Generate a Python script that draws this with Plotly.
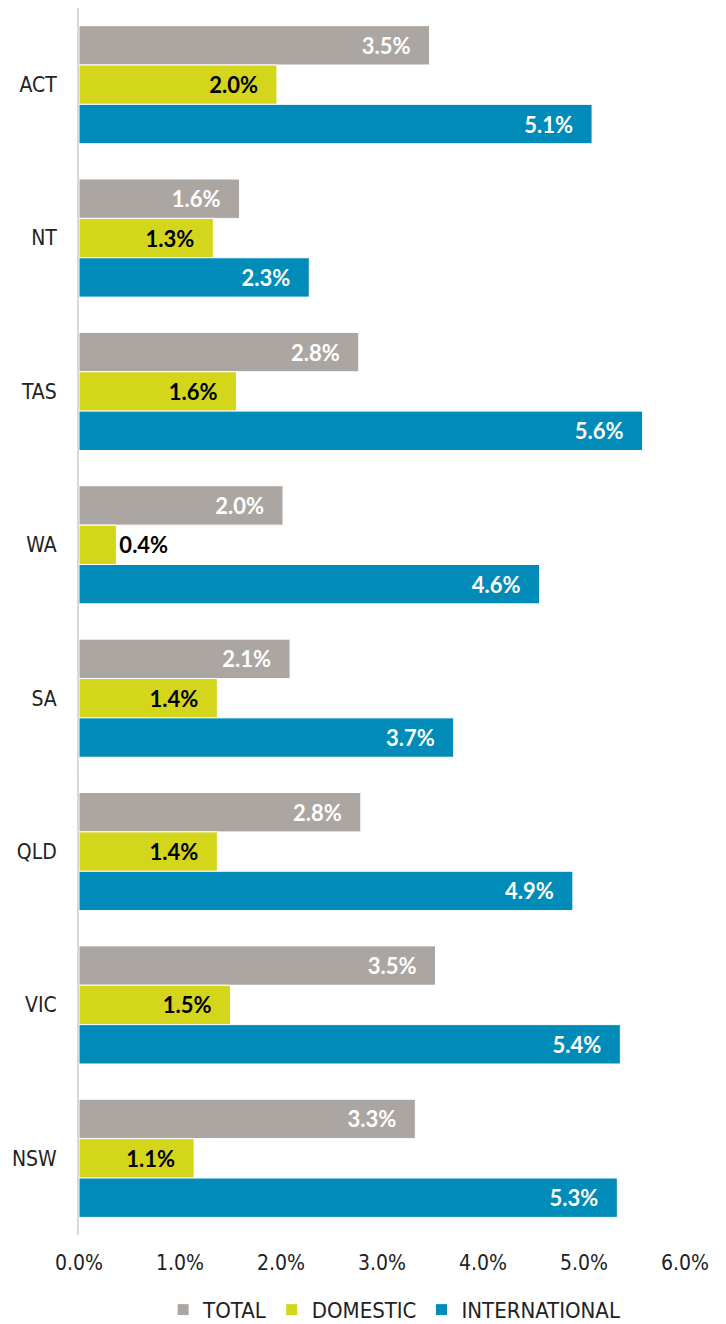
import plotly.graph_objects as go

states = ["ACT", "NT", "TAS", "WA", "SA", "QLD", "VIC", "NSW"]
total = [3.47, 1.59, 2.77, 2.02, 2.09, 2.79, 3.53, 3.33]
domestic = [1.96, 1.33, 1.56, 0.37, 1.37, 1.37, 1.50, 1.14]
international = [5.08, 2.28, 5.58, 4.56, 3.71, 4.89, 5.36, 5.33]
tick_vals = [0, 1, 2, 3, 4, 5, 6]
tick_text = ["0.0%", "1.0%", "2.0%", "3.0%", "4.0%", "5.0%", "6.0%"]

axis_font = "DejaVu Sans Condensed, DejaVu Sans, sans-serif"
label_font = "Lato, Open Sans, sans-serif"

series = [
    ("TOTAL", total, "#aba6a2", "white"),
    ("DOMESTIC", domestic, "#d4d61c", "black"),
    ("INTERNATIONAL", international, "#008bb8", "white"),
]

fig = go.Figure()
for name, vals, col, txtcol in series:
    # short bars can't hold their label, so put it just past the end
    pos = ["outside" if v < 0.6 else "inside" for v in vals]
    fig.add_trace(go.Bar(
        y=states, x=vals, name=name, orientation="h",
        marker=dict(color=col, line=dict(color="white", width=1)),
        texttemplate="%{x:.1f}%\u00a0\u00a0\u00a0", textposition=pos, textangle=0,
        insidetextanchor="end", constraintext="none",
        textfont=dict(family=label_font, size=22, color=txtcol, weight="bold"),
        outsidetextfont=dict(family=label_font, size=22, color="black", weight="bold"),
        cliponaxis=False,
    ))

# page body has an 8px margin, so the figure is 8px smaller than the window
fig.update_layout(
    barmode="group", bargap=0.23, bargroupgap=0,
    width=718, height=1316,
    margin=dict(l=71, r=41, t=0, b=89, autoexpand=False),
    plot_bgcolor="white", paper_bgcolor="white",
    font=dict(family=axis_font, size=21, color="#222222"),
    legend=dict(orientation="h", x=0.52, xanchor="center", y=-0.061, yanchor="middle",
                font=dict(family=axis_font, size=22, color="#222222"),
                itemwidth=30, traceorder="normal"),
    showlegend=True,
)
fig.update_xaxes(range=[0, 6], tickvals=tick_vals, ticktext=tick_text,
                 showgrid=False, zeroline=False, showline=False,
                 ticklabelstandoff=13, automargin=False)
fig.update_yaxes(autorange="reversed", showgrid=False, showline=True,
                 linecolor="#d9d9d9", linewidth=2, ticklabelstandoff=16,
                 automargin=False)

fig.write_html("out.html")
